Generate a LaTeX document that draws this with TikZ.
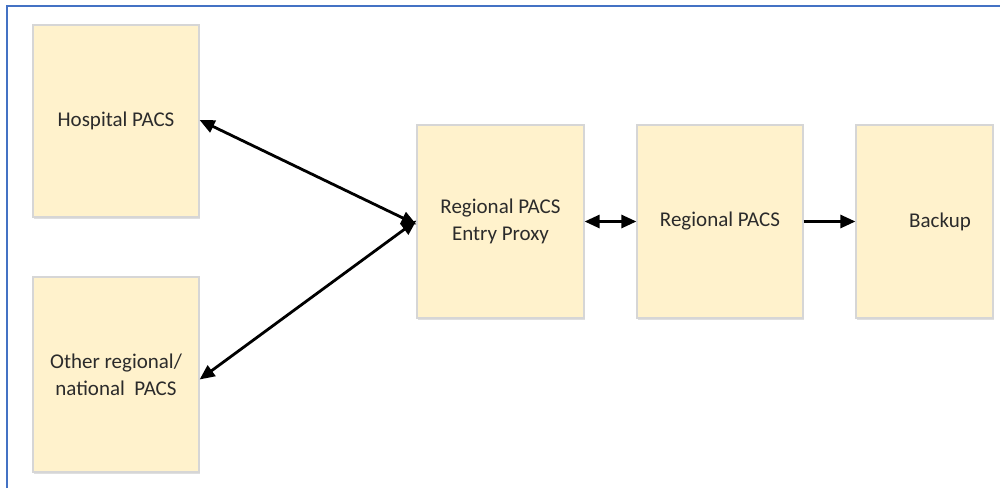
\documentclass[tikz,border=0pt]{standalone}
\usepackage{fontspec}
\setmainfont{Carlito}
\usetikzlibrary{arrows.meta,shadows}
\definecolor{boxfill}{HTML}{FFF2CC}
\definecolor{boxline}{HTML}{D6D6D6}
\definecolor{frameblue}{HTML}{4472C4}
\definecolor{txt}{HTML}{2B2B2B}
\begin{document}
\begin{tikzpicture}[x=1pt,y=-1pt,
  >={Triangle[length=15pt,width=13pt]},
  pbox/.style={draw=boxline, line width=1.2pt, fill=boxfill, inner sep=0pt,
    text=txt, font=\fontsize{21}{27}\selectfont, align=center,
    drop shadow={shadow xshift=1pt, shadow yshift=-1.5pt, opacity=0.25, fill=gray}},
  lbl/.style={text=txt, font=\fontsize{21}{27}\selectfont, align=center, inner sep=0pt},
  conn/.style={line width=2.8pt, draw=black}]
\useasboundingbox (0,0) rectangle (1000,488);
\fill[white] (0,0) rectangle (1000,488);
\draw[frameblue, line width=2pt] (7,488) -- (7,6) -- (1000,6);

\node[pbox, minimum width=166pt, minimum height=192pt] (hosp) at (116,121) {Hospital PACS};
\node[pbox, minimum width=166pt, minimum height=195pt] (other) at (116,374.5) {Other regional/\\national\ \ PACS};
\node[pbox, minimum width=167pt, minimum height=193pt] (proxy) at (500.5,221.5) {Regional PACS\\Entry Proxy};
\node[pbox, minimum width=166pt, minimum height=193pt] (reg) at (720,221.5) {Regional PACS};
\node[pbox, minimum width=137pt, minimum height=193pt] (backup) at (924.5,221.5) {};
\node[lbl] (backuplbl) at (940,221.5) {Backup};

\draw[conn, <->] ([yshift=1pt]hosp.east) -- ([yshift=-3pt]proxy.west);
\draw[conn, <->] ([yshift=-5pt]other.east) -- ([yshift=1pt]proxy.west);
\draw[conn, <->] (proxy.east) -- (reg.west);
\draw[conn, ->] (reg.east) -- (backup.west);
\end{tikzpicture}
\end{document}
